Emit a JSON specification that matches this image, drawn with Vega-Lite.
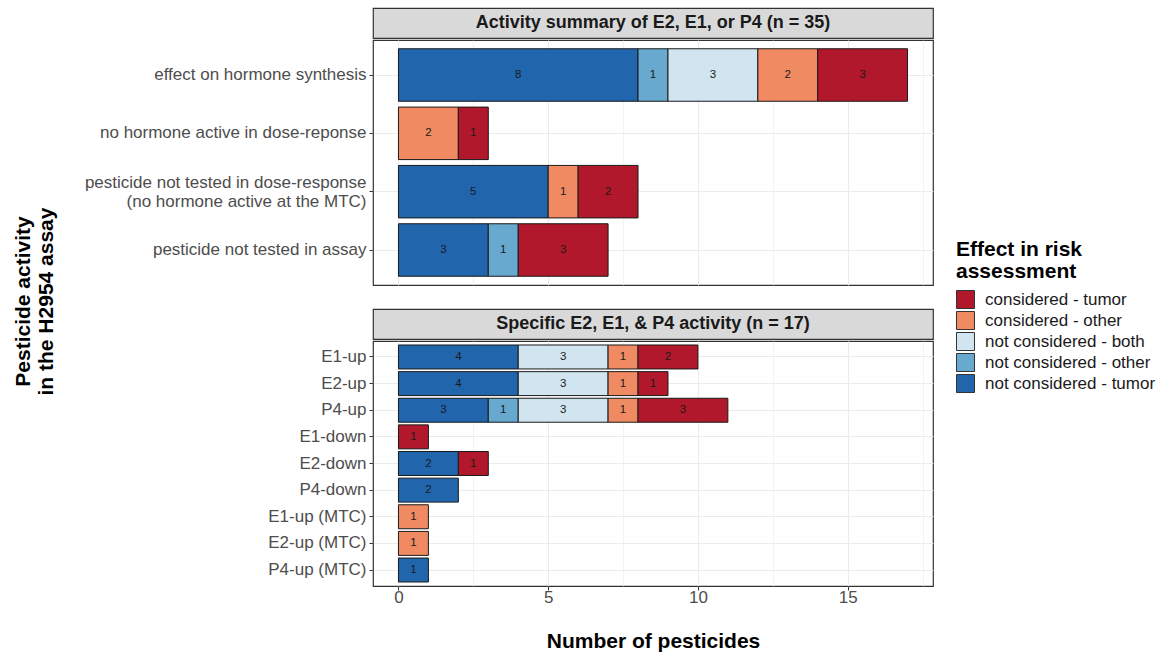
{
  "$schema": "https://vega.github.io/schema/vega-lite/v6.json",
  "padding": {"left": 12, "top": 7, "right": 0, "bottom": 0},
  "background": "white",
  "datasets": {
    "counts": [
      {"panel": "Activity summary of E2, E1, or P4 (n = 35)", "activity": "effect on hormone synthesis", "effect": "not considered - tumor", "n": 8},
      {"panel": "Activity summary of E2, E1, or P4 (n = 35)", "activity": "effect on hormone synthesis", "effect": "not considered - other", "n": 1},
      {"panel": "Activity summary of E2, E1, or P4 (n = 35)", "activity": "effect on hormone synthesis", "effect": "not considered - both", "n": 3},
      {"panel": "Activity summary of E2, E1, or P4 (n = 35)", "activity": "effect on hormone synthesis", "effect": "considered - other", "n": 2},
      {"panel": "Activity summary of E2, E1, or P4 (n = 35)", "activity": "effect on hormone synthesis", "effect": "considered - tumor", "n": 3},
      {"panel": "Activity summary of E2, E1, or P4 (n = 35)", "activity": "no hormone active in dose-reponse", "effect": "considered - other", "n": 2},
      {"panel": "Activity summary of E2, E1, or P4 (n = 35)", "activity": "no hormone active in dose-reponse", "effect": "considered - tumor", "n": 1},
      {"panel": "Activity summary of E2, E1, or P4 (n = 35)", "activity": "pesticide not tested in dose-response \n(no hormone active at the MTC)", "effect": "not considered - tumor", "n": 5},
      {"panel": "Activity summary of E2, E1, or P4 (n = 35)", "activity": "pesticide not tested in dose-response \n(no hormone active at the MTC)", "effect": "considered - other", "n": 1},
      {"panel": "Activity summary of E2, E1, or P4 (n = 35)", "activity": "pesticide not tested in dose-response \n(no hormone active at the MTC)", "effect": "considered - tumor", "n": 2},
      {"panel": "Activity summary of E2, E1, or P4 (n = 35)", "activity": "pesticide not tested in assay", "effect": "not considered - tumor", "n": 3},
      {"panel": "Activity summary of E2, E1, or P4 (n = 35)", "activity": "pesticide not tested in assay", "effect": "not considered - other", "n": 1},
      {"panel": "Activity summary of E2, E1, or P4 (n = 35)", "activity": "pesticide not tested in assay", "effect": "considered - tumor", "n": 3},
      {"panel": "Specific E2, E1, & P4 activity (n = 17)", "activity": "E1-up", "effect": "not considered - tumor", "n": 4},
      {"panel": "Specific E2, E1, & P4 activity (n = 17)", "activity": "E1-up", "effect": "not considered - both", "n": 3},
      {"panel": "Specific E2, E1, & P4 activity (n = 17)", "activity": "E1-up", "effect": "considered - other", "n": 1},
      {"panel": "Specific E2, E1, & P4 activity (n = 17)", "activity": "E1-up", "effect": "considered - tumor", "n": 2},
      {"panel": "Specific E2, E1, & P4 activity (n = 17)", "activity": "E2-up", "effect": "not considered - tumor", "n": 4},
      {"panel": "Specific E2, E1, & P4 activity (n = 17)", "activity": "E2-up", "effect": "not considered - both", "n": 3},
      {"panel": "Specific E2, E1, & P4 activity (n = 17)", "activity": "E2-up", "effect": "considered - other", "n": 1},
      {"panel": "Specific E2, E1, & P4 activity (n = 17)", "activity": "E2-up", "effect": "considered - tumor", "n": 1},
      {"panel": "Specific E2, E1, & P4 activity (n = 17)", "activity": "P4-up", "effect": "not considered - tumor", "n": 3},
      {"panel": "Specific E2, E1, & P4 activity (n = 17)", "activity": "P4-up", "effect": "not considered - other", "n": 1},
      {"panel": "Specific E2, E1, & P4 activity (n = 17)", "activity": "P4-up", "effect": "not considered - both", "n": 3},
      {"panel": "Specific E2, E1, & P4 activity (n = 17)", "activity": "P4-up", "effect": "considered - other", "n": 1},
      {"panel": "Specific E2, E1, & P4 activity (n = 17)", "activity": "P4-up", "effect": "considered - tumor", "n": 3},
      {"panel": "Specific E2, E1, & P4 activity (n = 17)", "activity": "E1-down", "effect": "considered - tumor", "n": 1},
      {"panel": "Specific E2, E1, & P4 activity (n = 17)", "activity": "E2-down", "effect": "not considered - tumor", "n": 2},
      {"panel": "Specific E2, E1, & P4 activity (n = 17)", "activity": "E2-down", "effect": "considered - tumor", "n": 1},
      {"panel": "Specific E2, E1, & P4 activity (n = 17)", "activity": "P4-down", "effect": "not considered - tumor", "n": 2},
      {"panel": "Specific E2, E1, & P4 activity (n = 17)", "activity": "E1-up (MTC)", "effect": "considered - other", "n": 1},
      {"panel": "Specific E2, E1, & P4 activity (n = 17)", "activity": "E2-up (MTC)", "effect": "considered - other", "n": 1},
      {"panel": "Specific E2, E1, & P4 activity (n = 17)", "activity": "P4-up (MTC)", "effect": "not considered - tumor", "n": 1}
    ],
    "strips": [
      {"panel": "Activity summary of E2, E1, or P4 (n = 35)"},
      {"panel": "Specific E2, E1, & P4 activity (n = 17)"}
    ]
  },
  "title": {
    "text": ["Pesticide activity", "in the H2954 assay"],
    "orient": "left",
    "anchor": "middle",
    "font": "Liberation Sans",
    "fontSize": 21,
    "fontWeight": "bold",
    "color": "#000000",
    "lineHeight": 23,
    "offset": 27,
    "dx": 28
  },
  "config": {
    "font": "Liberation Sans",
    "view": {"stroke": "#333333", "strokeWidth": 1.2},
    "axis": {"labelFont": "Liberation Sans", "titleFont": "Liberation Sans"},
    "legend": {"labelFont": "Liberation Sans", "titleFont": "Liberation Sans"}
  },
  "spacing": 22,
  "resolve": {"scale": {"color": "shared"}},
  "vconcat": [
    {
      "spacing": 0,
      "vconcat": [
        {
          "width": 560,
          "height": 30,
          "data": {"name": "strips"},
          "transform": [{"filter": "datum.panel === 'Activity summary of E2, E1, or P4 (n = 35)'"}],
          "view": {"fill": "#D9D9D9", "stroke": "#333333", "strokeWidth": 1.2},
          "mark": {"type": "text", "fontSize": 18, "fontWeight": "bold", "color": "#1A1A1A", "baseline": "middle", "align": "center"},
          "encoding": {"text": {"field": "panel", "type": "nominal"}}
        },
        {
          "width": 560,
          "height": 245,
          "data": {"name": "counts"},
          "transform": [
            {"filter": "datum.panel === 'Activity summary of E2, E1, or P4 (n = 35)'"},
            {"calculate": "indexof(['not considered - tumor','not considered - other','not considered - both','considered - other','considered - tumor'], datum.effect)", "as": "ord"},
            {"stack": "n", "groupby": ["activity"], "sort": [{"field": "ord", "order": "ascending"}], "as": ["x0", "x1"]},
            {"calculate": "(datum.x0 + datum.x1) / 2", "as": "xm"}
          ],
          "encoding": {
            "y": {
              "field": "activity",
              "type": "nominal",
              "sort": ["effect on hormone synthesis", "no hormone active in dose-reponse", "pesticide not tested in dose-response \n(no hormone active at the MTC)", "pesticide not tested in assay"],
              "scale": {"paddingInner": 0.1, "paddingOuter": 0.15},
              "axis": {"title": null, "bandPosition": 0.5, "grid": true, "gridColor": "#EBEBEB", "gridWidth": 1.1, "domain": false, "ticks": true, "tickSize": 4, "tickColor": "#333333", "tickWidth": 1, "labelFontSize": 17, "labelColor": "#4D4D4D", "labelPadding": 3, "labelLineHeight": 19, "labelLimit": 500, "labelExpr": "split(datum.label, '\\n')", "labelOffset": {"condition": {"test": "indexof(datum.value, '\\n') >= 0", "value": -9}, "value": 0}}
            }
          },
          "layer": [
            {
              "mark": {"type": "bar", "stroke": "#1A1A1A", "strokeWidth": 1},
              "encoding": {
                "x": {"field": "x0", "type": "quantitative", "scale": {"domain": [-0.85, 17.85], "nice": false, "zero": false},
                  "axis": {"title": null, "values": [0, 2.5, 5, 7.5, 10, 12.5, 15, 17.5], "labels": false, "ticks": false, "domain": false, "grid": true, "gridColor": "#EBEBEB", "gridWidth": {"condition": {"test": "datum.value % 5 !== 0", "value": 0.6}, "value": 1.1}}},
                "x2": {"field": "x1"},
                "color": {
                  "field": "effect", "type": "nominal",
                  "scale": {"domain": ["considered - tumor", "considered - other", "not considered - both", "not considered - other", "not considered - tumor"], "range": ["#B2182B", "#EF8A62", "#D1E5F0", "#67A9CF", "#2166AC"]},
                  "legend": {"orient": "none", "legendX": 583, "legendY": 231, "padding": 0, "title": ["Effect in risk", "assessment"], "titleFontSize": 21, "titleFontWeight": "bold", "titleColor": "#000000", "titleLineHeight": 22, "titlePadding": 8, "labelFontSize": 17, "labelColor": "#1A1A1A", "labelLimit": 300, "symbolType": "square", "symbolSize": 324, "symbolStrokeColor": "#333333", "symbolStrokeWidth": 1, "symbolOpacity": 1, "rowPadding": -5, "labelOffset": 10}
                }
              }
            },
            {
              "mark": {"type": "text", "fontSize": 11.5, "color": "#1A1A1A", "baseline": "middle", "align": "center"},
              "encoding": {
                "x": {"field": "xm", "type": "quantitative"},
                "text": {"field": "n", "type": "quantitative"}
              }
            }
          ]
        }
      ]
    },
    {
      "spacing": 0,
      "vconcat": [
        {
          "width": 560,
          "height": 30,
          "data": {"name": "strips"},
          "transform": [{"filter": "datum.panel === 'Specific E2, E1, & P4 activity (n = 17)'"}],
          "view": {"fill": "#D9D9D9", "stroke": "#333333", "strokeWidth": 1.2},
          "mark": {"type": "text", "fontSize": 18, "fontWeight": "bold", "color": "#1A1A1A", "baseline": "middle", "align": "center"},
          "encoding": {"text": {"field": "panel", "type": "nominal"}}
        },
        {
          "width": 560,
          "height": 245,
          "data": {"name": "counts"},
          "transform": [
            {"filter": "datum.panel === 'Specific E2, E1, & P4 activity (n = 17)'"},
            {"calculate": "indexof(['not considered - tumor','not considered - other','not considered - both','considered - other','considered - tumor'], datum.effect)", "as": "ord"},
            {"stack": "n", "groupby": ["activity"], "sort": [{"field": "ord", "order": "ascending"}], "as": ["x0", "x1"]},
            {"calculate": "(datum.x0 + datum.x1) / 2", "as": "xm"}
          ],
          "encoding": {
            "y": {
              "field": "activity",
              "type": "nominal",
              "sort": ["E1-up", "E2-up", "P4-up", "E1-down", "E2-down", "P4-down", "E1-up (MTC)", "E2-up (MTC)", "P4-up (MTC)"],
              "scale": {"paddingInner": 0.1, "paddingOuter": 0.15},
              "axis": {"title": null, "bandPosition": 0.5, "grid": true, "gridColor": "#EBEBEB", "gridWidth": 1.1, "domain": false, "ticks": true, "tickSize": 4, "tickColor": "#333333", "tickWidth": 1, "labelFontSize": 17, "labelColor": "#4D4D4D", "labelPadding": 3, "labelLimit": 500}
            }
          },
          "layer": [
            {
              "mark": {"type": "bar", "stroke": "#1A1A1A", "strokeWidth": 1},
              "encoding": {
                "x": {"field": "x0", "type": "quantitative", "scale": {"domain": [-0.85, 17.85], "nice": false, "zero": false},
                  "axis": {"title": "Number of pesticides", "titleFontSize": 21, "titleFontWeight": "bold", "titleColor": "#000000", "titlePadding": 25, "values": [0, 2.5, 5, 7.5, 10, 12.5, 15, 17.5], "labelExpr": "datum.value % 5 === 0 ? datum.label : ''", "labelFlush": false, "labelFontSize": 17, "labelColor": "#4D4D4D", "labelPadding": -1, "tickSize": 4, "tickColor": "#333333", "tickWidth": 1, "tickOpacity": {"condition": {"test": "datum.value % 5 !== 0", "value": 0}, "value": 1}, "domain": false, "grid": true, "gridColor": "#EBEBEB", "gridWidth": {"condition": {"test": "datum.value % 5 !== 0", "value": 0.6}, "value": 1.1}}},
                "x2": {"field": "x1"},
                "color": {
                  "field": "effect", "type": "nominal",
                  "scale": {"domain": ["considered - tumor", "considered - other", "not considered - both", "not considered - other", "not considered - tumor"], "range": ["#B2182B", "#EF8A62", "#D1E5F0", "#67A9CF", "#2166AC"]},
                  "legend": {"orient": "none", "legendX": 583, "legendY": 231, "padding": 0, "title": ["Effect in risk", "assessment"], "titleFontSize": 21, "titleFontWeight": "bold", "titleColor": "#000000", "titleLineHeight": 22, "titlePadding": 8, "labelFontSize": 17, "labelColor": "#1A1A1A", "labelLimit": 300, "symbolType": "square", "symbolSize": 324, "symbolStrokeColor": "#333333", "symbolStrokeWidth": 1, "symbolOpacity": 1, "rowPadding": -5, "labelOffset": 10}
                }
              }
            },
            {
              "mark": {"type": "text", "fontSize": 11.5, "color": "#1A1A1A", "baseline": "middle", "align": "center"},
              "encoding": {
                "x": {"field": "xm", "type": "quantitative"},
                "text": {"field": "n", "type": "quantitative"}
              }
            }
          ]
        }
      ]
    }
  ]
}
